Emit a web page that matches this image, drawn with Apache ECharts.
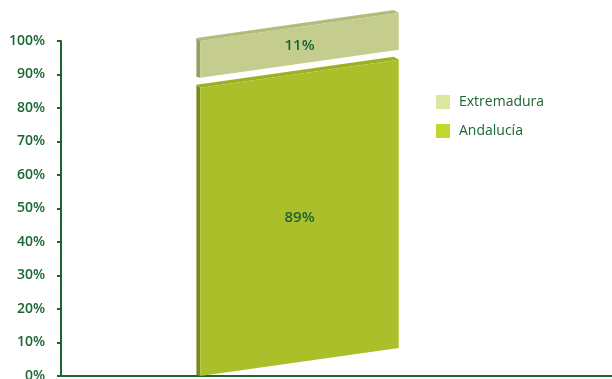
<!DOCTYPE html>
<html>
<head>
<meta charset="utf-8">
<script src="https://cdn.jsdelivr.net/npm/echarts@6/dist/echarts.min.js"></script>
<style>
html,body{margin:0;padding:0;background:#fff;}
#chart{width:612px;height:379px;}
</style>
</head>
<body>
<div id="chart"></div>
<script>
var categories = [''];
var seriesNames = ['Andalucía', 'Extremadura'];
var andaluciaValues = [89];
var extremaduraValues = [11];
var yTickLabels = ['0%','10%','20%','30%','40%','50%','60%','70%','80%','90%','100%'];

var GREEN = '#1a6633';
var palette = {
  'Andalucía': {front: '#abbf2a', side: '#7a8a18', top: '#9db024', legend: '#c3d82e'},
  'Extremadura': {front: '#c5cd8e', side: '#979e63', top: '#b4bc7c', legend: '#dce69c'}
};

function makeRender(name, isTopmost) {
  var c = palette[name];
  return function (params, api) {
    var start = api.value(1), end = api.value(2);
    var pb = api.coord([api.value(0), start]);
    var pt = api.coord([api.value(0), end]);
    var band = api.size([1, 0])[0];
    var w = band * 0.36;
    var cx = pb[0] - band * 0.067;
    var L = cx - w / 2, R = cx + w / 2;
    var yb = pb[1], yt = pt[1] + (isTopmost ? 0 : 10);
    var sk = 28, dx = 4, dy = 3;
    var front = [[L, yb], [R, yb - sk], [R, yt - sk], [L, yt]];
    var side = [[L - dx, yb - dy + 2], [L, yb], [L, yt], [L - dx, yt - dy]];
    var top = [[L, yt], [R, yt - sk], [R - 5, yt - sk - dy], [L - dx, yt - dy]];
    var midY = ((yb + yt) / 2 + (yb + yt - 2 * sk) / 2) / 2;
    return {
      type: 'group',
      children: [
        {type: 'polygon', shape: {points: side}, style: {fill: c.side}},
        {type: 'polygon', shape: {points: top}, style: {fill: c.top}},
        {type: 'polygon', shape: {points: front}, style: {fill: c.front}},
        {type: 'text', x: cx, y: midY, style: {
          text: Math.round(end - start) + '%', fill: GREEN,
          font: '600 15px "Open Sans", sans-serif', align: 'center', verticalAlign: 'middle'
        }}
      ]
    };
  };
}

var andData = andaluciaValues.map(function (v, i) { return [i, 0, v]; });
var extData = extremaduraValues.map(function (v, i) { return [i, andaluciaValues[i], andaluciaValues[i] + v]; });

var chart = echarts.init(document.getElementById('chart'));
chart.setOption({
  animation: false,
  backgroundColor: '#ffffff',
  grid: {left: 61, right: 0, top: 41, bottom: 3, containLabel: false, outerBoundsMode: 'none'},
  legend: {
    data: ['Extremadura', 'Andalucía'],
    orient: 'vertical', left: 436, top: 95, padding: 0,
    icon: 'rect', itemWidth: 14, itemHeight: 14, itemGap: 15,
    textStyle: {color: GREEN, fontSize: 14, fontFamily: '"Open Sans", sans-serif', padding: [0, 0, 0, 4]}
  },
  xAxis: {
    type: 'category', data: categories,
    axisLine: {lineStyle: {color: GREEN, width: 2}},
    axisTick: {show: false}, axisLabel: {show: false}
  },
  yAxis: {
    type: 'value', min: 0, max: 100, interval: 10,
    axisLine: {show: true, lineStyle: {color: GREEN, width: 2}},
    axisTick: {show: true, length: 4, lineStyle: {color: GREEN, width: 2}},
    splitLine: {show: false},
    axisLabel: {
      margin: 16, color: GREEN, fontSize: 14, fontWeight: 600,
      fontFamily: '"Open Sans", sans-serif',
      formatter: function (v) { return yTickLabels[Math.round(v / 10)]; }
    }
  },
  series: [
    {name: 'Andalucía', type: 'custom', clip: false, data: andData,
     itemStyle: {color: palette['Andalucía'].legend},
     encode: {x: 0, y: [1, 2]}, renderItem: makeRender('Andalucía', false)},
    {name: 'Extremadura', type: 'custom', clip: false, data: extData,
     itemStyle: {color: palette['Extremadura'].legend},
     encode: {x: 0, y: [1, 2]}, renderItem: makeRender('Extremadura', true)}
  ]
});
</script>
</body>
</html>
